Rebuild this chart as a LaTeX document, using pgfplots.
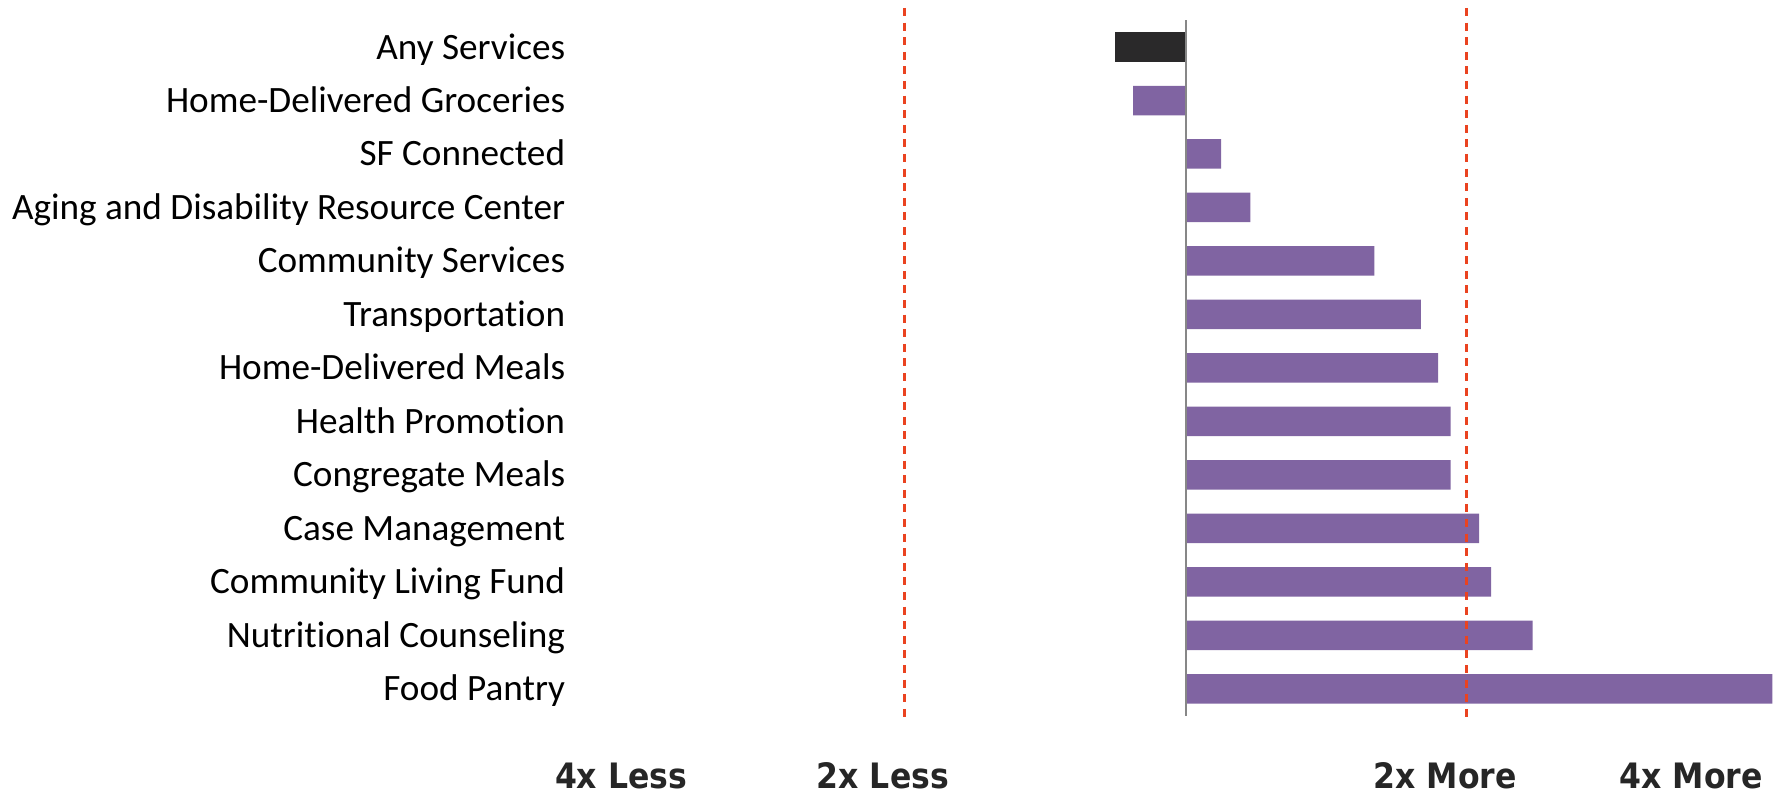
\documentclass[border=0pt]{standalone}
\usepackage{pgfplots}
\pgfplotsset{compat=1.18}
\usepackage{fontspec}
\setmainfont{Carlito}[Ligatures=NoCommon]
\newfontfamily\tickfont{DejaVu Sans}[FakeStretch=0.9]
\definecolor{barpurple}{HTML}{8064A2}
\definecolor{bardark}{HTML}{2A292A}
\definecolor{refline}{HTML}{EA4320}
\definecolor{zeroline}{HTML}{878787}
\definecolor{tickgray}{HTML}{262626}
\begin{document}
\begin{tikzpicture}
\begin{axis}[
  scale only axis,
  width=603.4pt, height=347.6pt,
  xmin=-2.174, xmax=2.124,
  ymin=-0.5, ymax=12.5,
  y dir=reverse,
  axis line style={draw=none},
  ytick={0,1,2,3,4,5,6,7,8,9,10,11,12},
  yticklabels={Any Services,Home-Delivered Groceries,SF Connected,Aging and Disability Resource Center,Community Services,Transportation,Home-Delivered Meals,Health Promotion,Congregate Meals,Case Management,Community Living Fund,Nutritional Counseling,Food Pantry},
  major tick length=0pt,
  yticklabel style={anchor=base east, inner sep=0pt, outer sep=0pt, xshift=-5pt, yshift=-6pt, font=\fontsize{18.6}{20}\selectfont, text=black},
  xtick={-2.01,-1.078,0.924,1.80},
  xticklabels={4x Less,2x Less,2x More,4x More},
  xticklabel style={anchor=center, inner sep=0pt, outer sep=0pt, yshift=-30pt, font=\tickfont\bfseries\fontsize{17.5}{18}\selectfont, text=tickgray},
  clip=false,
]
\addplot[xbar, bar width=14.75pt, bar shift=0pt, fill=bardark, draw=none] coordinates {(-0.25,0)};
\addplot[xbar, bar width=14.75pt, bar shift=0pt, fill=barpurple, draw=none] coordinates {
(-0.187,1) (0.127,2) (0.231,3) (0.672,4) (0.838,5) (0.899,6) (0.944,7) (0.944,8) (1.045,9) (1.088,10) (1.236,11) (2.09,12)};
\addplot[zeroline, line width=1pt, mark=none] coordinates {(0,-0.5) (0,12.5)};
\addplot[refline, line width=1.4pt, mark=none, dash pattern=on 4pt off 3.3pt] coordinates {(-1,-0.73) (-1,12.62)};
\addplot[refline, line width=1.4pt, mark=none, dash pattern=on 4pt off 3.3pt] coordinates {(1,-0.73) (1,12.62)};
\coordinate (bbA) at (axis cs:-4.222,-0.879);
\coordinate (bbB) at (axis cs:2.124,13.97);
\end{axis}
\pgfresetboundingbox
\useasboundingbox (bbA) rectangle (bbB);
\end{tikzpicture}
\end{document}
